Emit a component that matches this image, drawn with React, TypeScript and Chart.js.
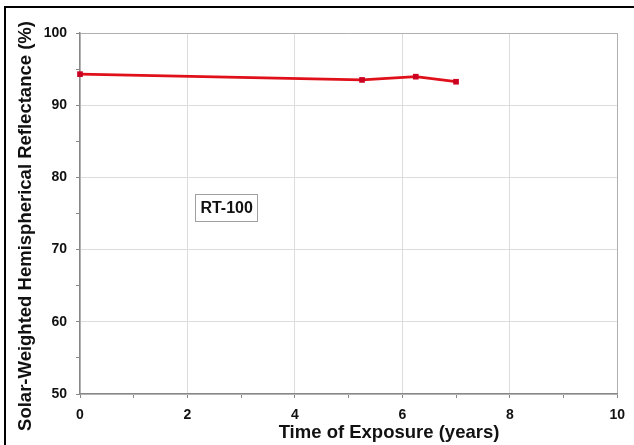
import React, { useEffect, useRef } from "react";
import { Chart, registerables } from "chart.js";

Chart.register(...registerables);

const years = [0, 5.25, 6.25, 7.0];
const reflectance = [94.3, 93.5, 93.95, 93.25];
const xTicksMajor = [0, 2, 4, 6, 8, 10];
const yTicksMajor = [50, 60, 70, 80, 90, 100];
const seriesLabel = "RT-100";
const labelAnchor = { x: 2.73, y: 75.8 };
const xTitle = "Time of Exposure (years)";
const yTitle = "Solar-Weighted Hemispherical Reflectance (%)";

const FONT = "Arial, 'Liberation Sans', sans-serif";

export default function App() {
  const ref = useRef<HTMLCanvasElement>(null);
  useEffect(() => {
    document.body.style.margin = "0";
    const canvas = ref.current!;
    const decor = {
      id: "decor",
      afterDraw(chart: any) {
        const ctx = chart.ctx;
        const xs = chart.scales.x;
        const ys = chart.scales.y;
        ctx.save();
        // outer frame
        ctx.fillStyle = "#000";
        ctx.fillRect(4, 6, 640, 2);
        ctx.fillRect(4, 6, 2, 450);
        // label box
        const cx = xs.getPixelForValue(labelAnchor.x);
        const cy = ys.getPixelForValue(labelAnchor.y);
        ctx.font = `bold 16px ${FONT}`;
        const w = ctx.measureText(seriesLabel).width;
        const bw = w + 10;
        const bh = 27;
        ctx.fillStyle = "#fff";
        ctx.fillRect(cx - bw / 2, cy - bh / 2, bw, bh);
        ctx.strokeStyle = "#a0a0a0";
        ctx.lineWidth = 1;
        ctx.strokeRect(Math.round(cx - bw / 2) + 0.5, Math.round(cy - bh / 2) + 0.5, Math.round(bw), bh);
        ctx.fillStyle = "#111";
        ctx.textAlign = "center";
        ctx.textBaseline = "middle";
        ctx.fillText(seriesLabel, cx, cy + 1);
        // x title
        ctx.font = `bold 18.5px ${FONT}`;
        ctx.fillText(xTitle, 389, 433);
        // y title
        ctx.translate(26, 226);
        ctx.rotate(-Math.PI / 2);
        ctx.font = `bold 18.5px ${FONT}`;
        ctx.fillText(yTitle, 0, 0);
        ctx.restore();
      },
    };
    const chart = new Chart(canvas, {
      type: "scatter",
      data: {
        datasets: [
          {
            label: seriesLabel,
            data: years.map((x, i) => ({ x, y: reflectance[i] })),
            showLine: true,
            clip: false,
            borderColor: "#e0101a",
            backgroundColor: "#cc0020",
            borderWidth: 2.8,
            pointStyle: "rect",
            pointRadius: 4,
            pointBorderWidth: 0,
          },
        ],
      },
      options: {
        responsive: false,
        animation: false,
        layout: { padding: { left: 0, top: 33, right: 16, bottom: 0 } },
        plugins: { legend: { display: false }, tooltip: { enabled: false } },
        scales: {
          x: {
            type: "linear",
            min: 0,
            max: 10,
            afterFit: (s: any) => { s.height = 51; },
            afterBuildTicks: (s: any) => {
              const t = [];
              for (let v = 0; v <= 10; v += 1) t.push({ value: v });
              s.ticks = t;
            },
            ticks: {
              autoSkip: false,
              maxRotation: 0,
              padding: 9,
              color: "#111",
              font: { family: FONT, size: 14, weight: "bold" },
              callback: (v: any) => (xTicksMajor.includes(v) ? String(v) : ""),
            },
            grid: {
              color: (c: any) => (c.tick && xTicksMajor.includes(c.tick.value) ? (c.tick.value === 10 ? "#b0b0b0" : "#dcdcdc") : "rgba(0,0,0,0)"),
              tickColor: "#888",
              tickLength: 4,
              lineWidth: 1,
            },
            border: { color: "#888", width: 1.5 },
            title: { display: false },
          },
          y: {
            type: "linear",
            min: 50,
            max: 100,
            afterFit: (s: any) => { s.width = 80; },
            afterBuildTicks: (s: any) => {
              const t = [];
              for (let v = 50; v <= 100; v += 5) t.push({ value: v });
              s.ticks = t;
            },
            ticks: {
              autoSkip: false,
              padding: 9,
              color: "#111",
              font: { family: FONT, size: 14, weight: "bold" },
              callback: (v: any) => (yTicksMajor.includes(v) ? String(v) : ""),
            },
            grid: {
              color: (c: any) => (c.tick && yTicksMajor.includes(c.tick.value) ? (c.tick.value === 100 ? "#b0b0b0" : "#dcdcdc") : "rgba(0,0,0,0)"),
              tickColor: "#888",
              tickLength: 4,
              lineWidth: 1,
            },
            border: { color: "#888", width: 1.5 },
            title: { display: false },
          },
        },
      },
      plugins: [decor],
    });
    return () => chart.destroy();
  }, []);
  return <canvas ref={ref} width={634} height={445} style={{ display: "block", width: 634, height: 445 }} />;
}
